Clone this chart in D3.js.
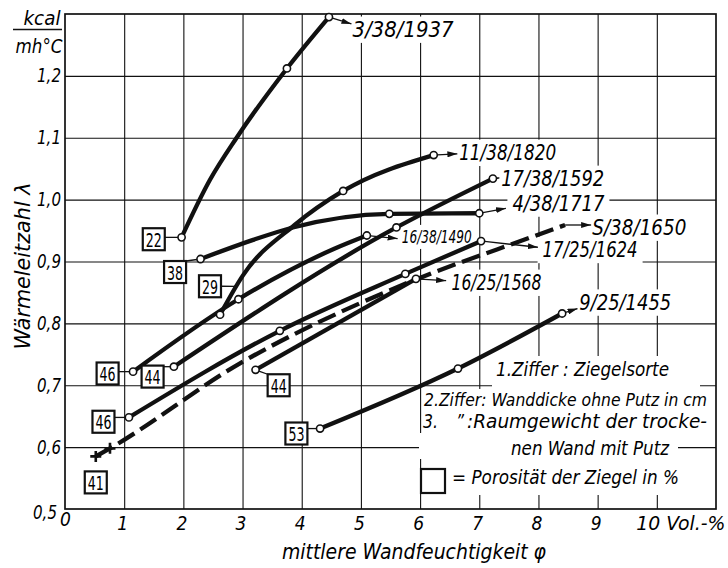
<!DOCTYPE html>
<html>
<head>
<meta charset="utf-8">
<script src="https://cdn.jsdelivr.net/npm/d3@7"></script>
<style>
  body { margin: 0; background: #fff; }
  svg text { font-family: "DejaVu Sans Condensed", "DejaVu Sans", sans-serif; font-stretch: condensed; fill: #000; }
</style>
</head>
<body>
<svg id="chart" width="728" height="568"></svg>
<script>
// Thermal conductivity of brick walls against their mean moisture content.
// Each curve: brick type / wall thickness without plaster (cm) / dry density of the plastered wall.

const xTicks = [0, 1, 2, 3, 4, 5, 6, 7, 8, 9, 10];
const xTickLabels = ["0", "1", "2", "3", "4", "5", "6", "7", "8", "9", "10 Vol.-%"];
const yTicks = [0.5, 0.6, 0.7, 0.8, 0.9, 1.0, 1.1, 1.2];
const yTickLabels = ["0,5", "0,6", "0,7", "0,8", "0,9", "1,0", "1,1", "1,2"];

// [moisture φ in Vol.-%, conductivity λ in kcal/mh°C, kind]
// kind 1 = measured point (circle), 2 = measured point (cross), 0 = point along the drawn curve
const s3_38_1937  = [[1.97, 0.939, 1], [2.45, 1.032, 0], [2.90, 1.100, 0], [3.75, 1.212, 1], [4.46, 1.295, 1]];
const s11_38_1820 = [[2.62, 0.814, 1], [3.01, 0.878, 0], [3.88, 0.959, 0], [4.70, 1.014, 1], [6.23, 1.072, 1]];
const s17_38_1592 = [[1.84, 0.730, 1], [5.60, 0.955, 1], [7.23, 1.034, 1]];
const s4_38_1717  = [[2.29, 0.904, 1], [3.18, 0.935, 0], [3.85, 0.955, 0], [5.48, 0.977, 1], [7.00, 0.978, 1]];
const s16_38_1490 = [[1.15, 0.722, 1], [2.93, 0.839, 1], [4.56, 0.921, 0], [5.10, 0.942, 1]];
const sS_38_1650  = [[0.52, 0.585, 2], [0.76, 0.598, 2], [2.95, 0.735, 0], [5.65, 0.860, 0], [7.90, 0.940, 0], [8.45, 0.959, 0]];
const s17_25_1624 = [[1.08, 0.648, 1], [3.63, 0.788, 1], [5.75, 0.880, 1], [7.03, 0.933, 1]];
const s16_25_1568 = [[3.22, 0.725, 1], [5.93, 0.872, 1]];
const s9_25_1455  = [[4.31, 0.630, 1], [6.64, 0.727, 1], [8.40, 0.816, 1]];

const seriesNames = ["3/38/1937", "11/38/1820", "17/38/1592", "4/38/1717", "16/38/1490",
                     "S/38/1650", "17/25/1624", "16/25/1568", "9/25/1455"];
const seriesData = [s3_38_1937, s11_38_1820, s17_38_1592, s4_38_1717, s16_38_1490,
                    sS_38_1650, s17_25_1624, s16_25_1568, s9_25_1455];
const seriesPorosity = [22, 29, 44, 38, 46, 41, 46, 44, 53];   // porosity of the bricks in %
const seriesDashed = [false, false, false, false, false, true, false, false, false];

// Layout of the annotations, in chart units (φ, λ)
// name label: text start, baseline, arrow tip, text width (px), font size (px)
const nameLayout = [
  { x: 4.86, y: 1.263, tx: 4.84, ty: 1.284, w: 101, fs: 21 },
  { x: 6.66, y: 1.064, tx: 6.63, ty: 1.074, w: 97,  fs: 21 },
  { x: 7.37, y: 1.022, tx: 7.34, ty: 1.035, w: 103, fs: 21 },
  { x: 7.56, y: 0.982, tx: 7.45, ty: 0.986, w: 92,  fs: 21 },
  { x: 5.69, y: 0.930, tx: 5.62, ty: 0.937, w: 70,  fs: 18 },
  { x: 8.91, y: 0.943, tx: 8.89, ty: 0.959, w: 94,  fs: 21 },
  { x: 8.07, y: 0.907, tx: 7.99, ty: 0.923, w: 95,  fs: 21 },
  { x: 6.53, y: 0.854, tx: 6.44, ty: 0.869, w: 90,  fs: 21 },
  { x: 8.69, y: 0.822, tx: 8.66, ty: 0.824, w: 92,  fs: 21 }
];
// porosity box centre; leader: "first" = to the first measured point, "level" = straight across to the curve, null = none
const boxLayout = [
  { x: 1.50, y: 0.936, leader: "first" },
  { x: 2.45, y: 0.860, leader: "level" },
  { x: 1.48, y: 0.714, leader: "first" },
  { x: 1.86, y: 0.883, leader: "first" },
  { x: 0.72, y: 0.719, leader: "first" },
  { x: 0.52, y: 0.543, leader: null },
  { x: 0.65, y: 0.641, leader: "first" },
  { x: 3.61, y: 0.700, leader: "first" },
  { x: 3.91, y: 0.622, leader: "first" }
];

const legendLines = [
  { t: "1.Ziffer : Ziegelsorte", x: 496, y: 376, w: 173, fs: 19 },
  { t: "2.Ziffer: Wanddicke ohne Putz in cm", x: 424, y: 406, w: 283, fs: 17 },
  { t: "3.", x: 423, y: 428, w: 15, fs: 19 },
  { t: "\u201D", x: 456, y: 428, w: 8, fs: 19 },
  { t: ":Raumgewicht der trocke-", x: 467, y: 428, w: 240, fs: 19 },
  { t: "nen  Wand mit Putz", x: 511, y: 455, w: 158, fs: 19 },
  { t: "= Porosität der Ziegel in %", x: 452, y: 484, w: 227, fs: 19 }
];

const svg = d3.select("#chart");
const x = d3.scaleLinear().domain([0, 11]).range([65, 716]);
const y = d3.scaleLinear().domain([0.5, 1.3]).range([509, 14]);
const ink = "#111";

// ---- grid ----
const grid = svg.append("g");
grid.append("g")
  .attr("transform", `translate(0,${y(0.5)})`)
  .call(d3.axisBottom(x).tickValues(xTicks.filter(v => v > 0)).tickSize(-(y(0.5) - y(1.3))).tickFormat(""))
  .call(g => g.select(".domain").remove())
  .call(g => g.selectAll(".tick line").attr("stroke", ink).attr("stroke-width", 1.1));
grid.append("g")
  .attr("transform", `translate(${x(0)},0)`)
  .call(d3.axisLeft(y).tickValues(yTicks.filter(v => v > 0.5)).tickSize(-(x(11) - x(0))).tickFormat(""))
  .call(g => g.select(".domain").remove())
  .call(g => g.selectAll(".tick line").attr("stroke", ink).attr("stroke-width", 1.1));

// ---- white ground behind the name labels and the key ----
const ground = svg.append("g").attr("fill", "#fff");
nameLayout.forEach(l => {
  const px = x(l.x), py = y(l.y);
  ground.append("rect").attr("x", px - 5).attr("y", py - 0.78 * l.fs - 4)
    .attr("width", l.w + 10).attr("height", 0.78 * l.fs + 10);
});
[[492, 356, 208, 35], [423, 389, 291, 44], [419, 433, 259, 26], [423, 459, 259, 36]].forEach(r =>
  ground.append("rect").attr("x", r[0]).attr("y", r[1]).attr("width", r[2]).attr("height", r[3]));

// ---- frame ----
svg.append("rect")
  .attr("x", x(0)).attr("y", y(1.3))
  .attr("width", x(11) - x(0)).attr("height", y(0.5) - y(1.3))
  .attr("fill", "none").attr("stroke", ink).attr("stroke-width", 1.7);

// ---- axes labels ----
const yAxis = svg.append("g")
  .attr("transform", `translate(${x(0)},0)`)
  .call(d3.axisLeft(y).tickValues(yTicks).tickSize(0).tickPadding(4).tickFormat((d, i) => yTickLabels[i]));
yAxis.select(".domain").remove();
yAxis.selectAll("text").attr("font-size", 19).attr("font-style", "italic")
  .attr("font-family", null).attr("textLength", 24).attr("lengthAdjust", "spacingAndGlyphs");
yAxis.selectAll("text").filter(d => d === 0.5).attr("dx", -4).attr("dy", "0.5em");

const xAxis = svg.append("g")
  .attr("transform", `translate(0,${y(0.5)})`)
  .call(d3.axisBottom(x).tickValues(xTicks).tickSize(0).tickPadding(8).tickFormat((d, i) => xTickLabels[i]));
xAxis.select(".domain").remove();
xAxis.selectAll("text").attr("font-size", 19).attr("font-style", "italic").attr("font-family", null)
  .attr("dx", -2);
xAxis.selectAll("text").filter(d => d === 0).attr("dx", 0).attr("dy", "0.45em");
xAxis.selectAll("text").filter(d => d === 10).attr("text-anchor", "start").attr("dx", -21)
  .attr("textLength", 89).attr("lengthAdjust", "spacingAndGlyphs");

function addText(g, str, px, py, o = {}) {
  const t = g.append("text").attr("x", px).attr("y", py)
    .attr("font-size", o.fs || 20)
    .attr("font-style", o.upright ? "normal" : "italic")
    .attr("text-anchor", o.anchor || "start")
    .text(str);
  if (o.w) t.attr("textLength", o.w).attr("lengthAdjust", "spacingAndGlyphs");
  if (o.rot) t.attr("transform", `rotate(${o.rot},${px},${py})`);
  return t;
}

// axis titles and unit
addText(svg, "mittlere Wandfeuchtigkeit \u03C6", 414, 559, { fs: 21, anchor: "middle", w: 264 });
addText(svg, "Wärmeleitzahl \u03BB", 30, 266, { fs: 21, anchor: "middle", w: 167, rot: -90 });
addText(svg, "kcal", 42, 25, { fs: 19, anchor: "middle", w: 37 });
svg.append("line").attr("x1", 13).attr("x2", 62).attr("y1", 29.5).attr("y2", 29.5)
  .attr("stroke", ink).attr("stroke-width", 1.6);
addText(svg, "mh\u00B0C", 39, 53, { fs: 19, anchor: "middle", w: 47 });

// ---- curves ----
const line = d3.line().x(d => x(d[0])).y(d => y(d[1])).curve(d3.curveMonotoneX);
const curves = svg.append("g").attr("fill", "none").attr("stroke", ink).attr("stroke-width", 4.3);
const paths = seriesData.map((pts, i) =>
  curves.append("path").attr("d", line(pts))
    .attr("stroke-dasharray", seriesDashed[i] ? "19 7" : null)
    .attr("stroke-linecap", "butt"));

// ---- arrows from the last point to the name labels ----
const defs = svg.append("defs");
defs.append("marker").attr("id", "head")
  .attr("viewBox", "0 0 10 6").attr("refX", 10).attr("refY", 3)
  .attr("markerWidth", 10).attr("markerHeight", 6).attr("markerUnits", "userSpaceOnUse")
  .attr("orient", "auto")
  .append("path").attr("d", "M0,0L10,3L0,6Z").attr("fill", ink);

const R = 3.6;
seriesData.forEach((pts, i) => {
  const last = pts[pts.length - 1];
  const l = nameLayout[i];
  const x0 = x(last[0]), y0 = y(last[1]), x1 = x(l.tx), y1 = y(l.ty);
  const d = Math.hypot(x1 - x0, y1 - y0);
  const off = last[2] === 1 ? R : 0;
  svg.append("line")
    .attr("x1", x0 + (x1 - x0) * off / d).attr("y1", y0 + (y1 - y0) * off / d)
    .attr("x2", x1).attr("y2", y1)
    .attr("stroke", ink).attr("stroke-width", 1.3).attr("marker-end", "url(#head)");
  addText(svg, seriesNames[i], x(l.x), y(l.y), { fs: l.fs, w: l.w });
});

// ---- measured points ----
const pts = svg.append("g");
seriesData.forEach(series => {
  series.filter(d => d[2] === 1).forEach(d =>
    pts.append("circle").attr("cx", x(d[0])).attr("cy", y(d[1])).attr("r", R)
      .attr("fill", "#fff").attr("stroke", ink).attr("stroke-width", 1.6));
  series.filter(d => d[2] === 2).forEach(d =>
    pts.append("path")
      .attr("d", `M${x(d[0]) - 5.5},${y(d[1])}h11M${x(d[0])},${y(d[1]) - 5.5}v11`)
      .attr("stroke", ink).attr("stroke-width", 2.6));
});

// ---- porosity boxes ----
const boxW = 22, boxH = 22;
const boxes = svg.append("g");
seriesData.forEach((series, i) => {
  const b = boxLayout[i];
  const cx = x(b.x), cy = y(b.y);
  const left = cx - boxW / 2, right = cx + boxW / 2, top = cy - boxH / 2, bottom = cy + boxH / 2;
  if (b.leader === "first") {
    const p = series.find(d => d[2] === 1);
    const px = x(p[0]), py = y(p[1]);
    const sx = Math.max(left, Math.min(right, px)), sy = Math.max(top, Math.min(bottom, py));
    const d = Math.hypot(px - sx, py - sy);
    boxes.append("line").attr("x1", sx).attr("y1", sy)
      .attr("x2", px - (px - sx) * R / d).attr("y2", py - (py - sy) * R / d)
      .attr("stroke", ink).attr("stroke-width", 1.3);
  } else if (b.leader === "level") {
    const node = paths[i].node(), len = node.getTotalLength();
    let best = null;
    for (let s = 0; s <= len; s += 0.5) {
      const q = node.getPointAtLength(s);
      if (!best || Math.abs(q.y - cy) < Math.abs(best.y - cy)) best = q;
    }
    boxes.append("line").attr("x1", right).attr("y1", cy).attr("x2", best.x).attr("y2", best.y)
      .attr("stroke", ink).attr("stroke-width", 1.3);
  }
  boxes.append("rect").attr("x", left).attr("y", top).attr("width", boxW).attr("height", boxH)
    .attr("fill", "#fff").attr("stroke", ink).attr("stroke-width", 2.2);
  addText(boxes, String(seriesPorosity[i]), cx, cy + 7.5, { fs: 20, anchor: "middle", w: 16, upright: true });
});

// ---- key ----
const key = svg.append("g");
legendLines.forEach(l => addText(key, l.t, l.x, l.y, { fs: l.fs, w: l.w }));
key.append("rect").attr("x", 421).attr("y", 469).attr("width", 24).attr("height", 24)
  .attr("fill", "none").attr("stroke", ink).attr("stroke-width", 2.2);
</script>
</body>
</html>
